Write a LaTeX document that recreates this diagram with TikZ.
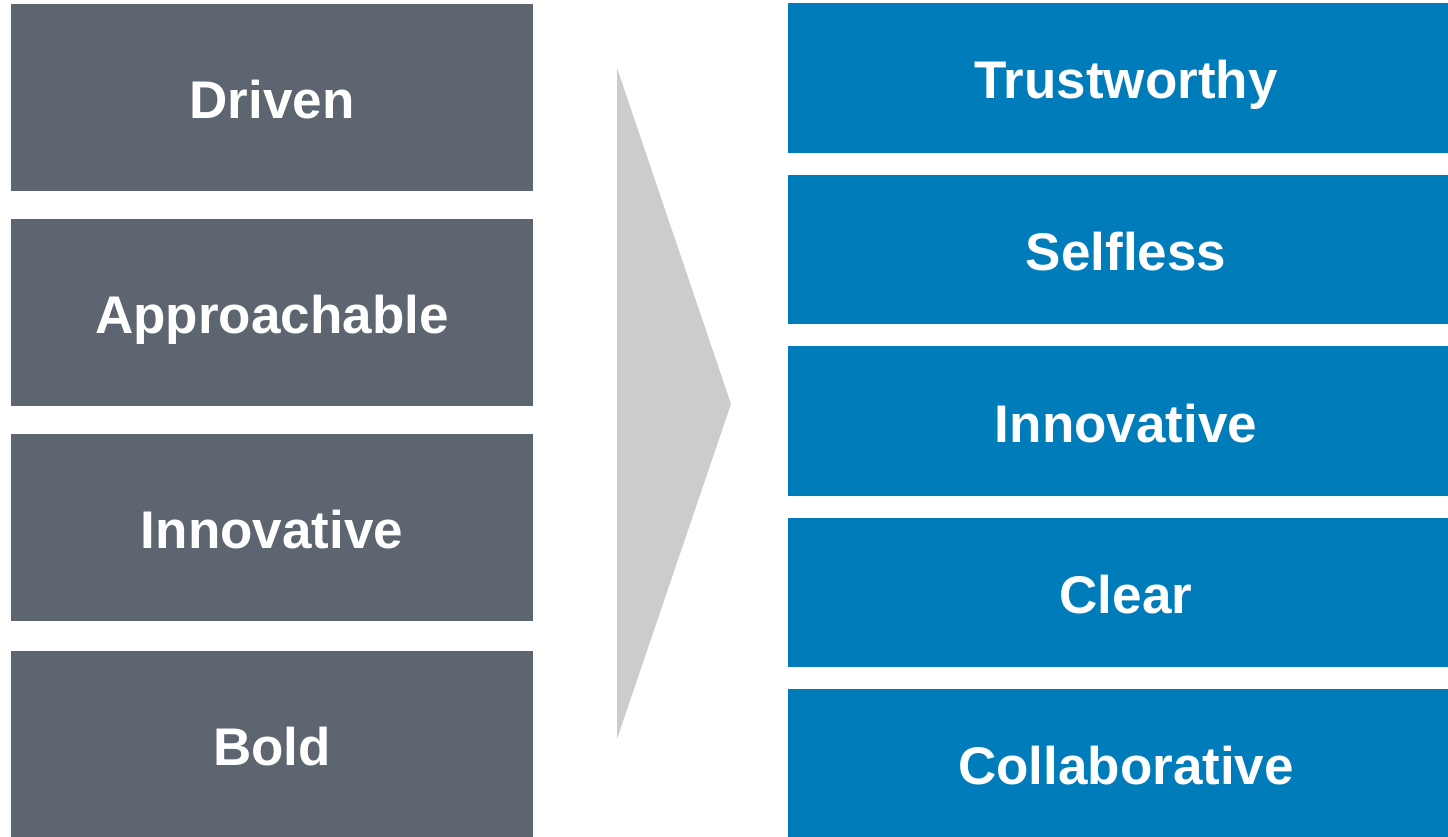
\documentclass[tikz,border=0pt]{standalone}
\usepackage{fontspec}
\setmainfont{Liberation Sans}
\definecolor{slate}{HTML}{5D6670}
\definecolor{corpblue}{HTML}{007CBA}
\definecolor{chevgrey}{HTML}{CCCCCC}
\begin{document}
\begin{tikzpicture}[x=1pt,y=-1pt,
  boxlabel/.style={draw=none,inner sep=0pt,anchor=base,text=white,font=\bfseries\fontsize{53}{60}\selectfont}]
\useasboundingbox (0,0) rectangle (1448,837);
% left column
\foreach \t/\b/\lab/\nm in {4/191/Driven/l1,219/406/Approachable/l2,434/621/Innovative/l3,651/837/Bold/l4}{
  \fill[slate] (11,\t) rectangle (533,\b);
  \node[boxlabel] (\nm) at (272,{(\t+\b)/2+21}) {\lab};
}
% chevron
\fill[chevgrey] (617,68) -- (731,404) -- (617,739) -- cycle;
% right column
\foreach \t/\b/\lab/\nm in {3/153/Trustworthy/r1,175/324/Selfless/r2,346/496/Innovative/r3,518/667/Clear/r4,689/837/Collaborative/r5}{
  \fill[corpblue] (788,\t) rectangle (1448,\b);
  \node[boxlabel] (\nm) at (1126,{(\t+\b)/2+21}) {\lab};
}
\end{tikzpicture}
\end{document}
